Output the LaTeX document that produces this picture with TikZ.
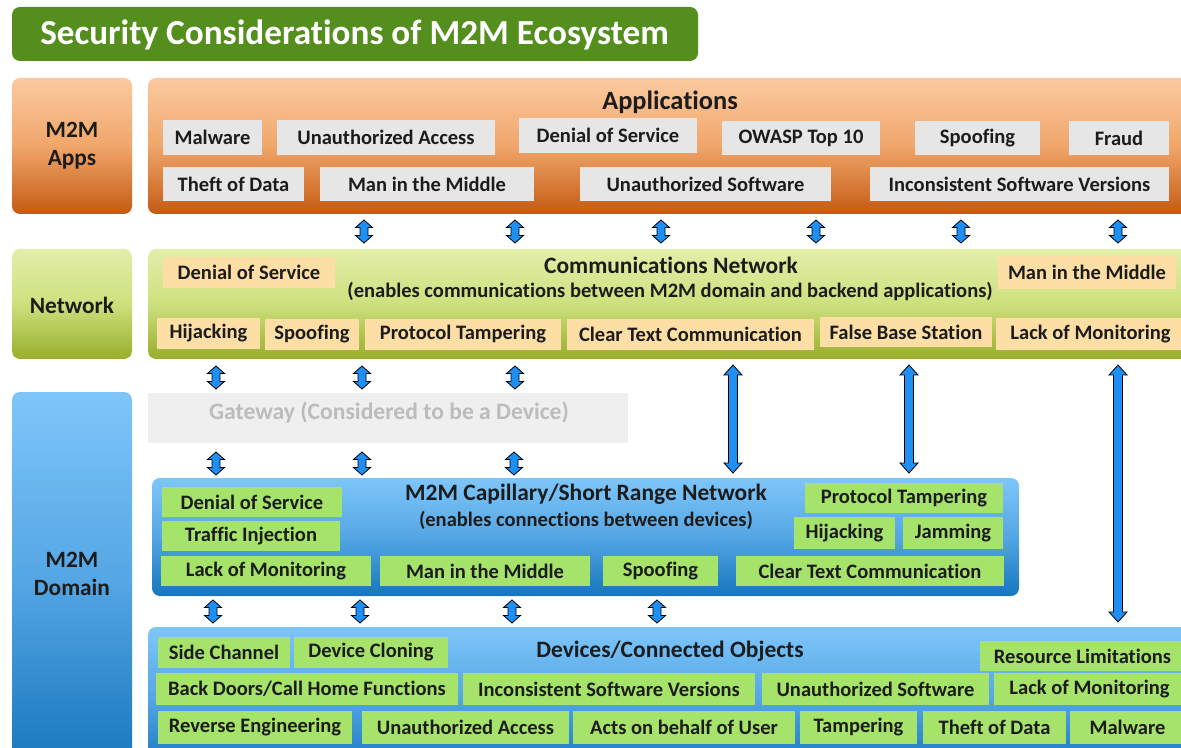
\documentclass[tikz,border=0pt]{standalone}
\usepackage{fontspec}
\setmainfont{Carlito}[Ligatures=NoCommon]
\usetikzlibrary{calc}
\definecolor{titlegreen}{RGB}{84,142,29}
\definecolor{orTop}{RGB}{251,202,160}
\definecolor{orMid}{RGB}{240,166,106}
\definecolor{orBot}{RGB}{196,90,18}
\definecolor{grTop}{RGB}{228,238,170}
\definecolor{grMid}{RGB}{205,224,125}
\definecolor{grBot}{RGB}{152,174,44}
\definecolor{blTop}{RGB}{126,198,250}
\definecolor{blMid}{RGB}{84,166,228}
\definecolor{blBot}{RGB}{22,118,188}
\definecolor{grayBox}{RGB}{230,230,230}
\definecolor{peachBox}{RGB}{253,222,165}
\definecolor{greenBox}{RGB}{166,227,106}
\definecolor{gwFill}{RGB}{239,239,239}
\definecolor{gwText}{RGB}{188,188,188}
\definecolor{txt}{RGB}{28,28,28}
\definecolor{arrBlue}{RGB}{30,144,245}
\newcommand\bx[7]{\node[#7, minimum width={(#4-#2)*0.75pt}, minimum height={(#5-#3)*0.75pt}] (#1) at ({(#2+#4)/2},{(#3+#5)/2}) {#6};}
\newcommand\darr[3]{\filldraw[arrst] (#1,#2) -- ({#1+8.5},{#2+7.5}) -- ({#1+4},{#2+7.5}) -- ({#1+4},{#3-7.5}) -- ({#1+8.5},{#3-7.5}) -- (#1,#3) -- ({#1-8.5},{#3-7.5}) -- ({#1-4},{#3-7.5}) -- ({#1-4},{#2+7.5}) -- ({#1-8.5},{#2+7.5}) -- cycle;}
\newcommand\larr[3]{\filldraw[arrst] (#1,#2) -- ({#1+9},{#2+10}) -- ({#1+4.5},{#2+10}) -- ({#1+4.5},{#3-10}) -- ({#1+9},{#3-10}) -- (#1,#3) -- ({#1-9},{#3-10}) -- ({#1-4.5},{#3-10}) -- ({#1-4.5},{#2+10}) -- ({#1-9},{#2+10}) -- cycle;}
\begin{document}
\begin{tikzpicture}[x=0.75pt,y=-0.75pt,
  every node/.style={text=txt, font=\bfseries\fontsize{15.4}{17}\selectfont},
  item/.style={inner sep=0pt, align=center},
  graybox/.style={item, fill=grayBox},
  peach/.style={item, fill=peachBox},
  grn/.style={item, fill=greenBox},
  orband/.style={rounded corners=6pt, top color=orTop, bottom color=orBot, middle color=orMid},
  grband/.style={rounded corners=6pt, top color=grTop, bottom color=grBot, middle color=grMid},
  blband/.style={rounded corners=6pt, top color=blTop, bottom color=blBot, middle color=blMid},
  head/.style={font=\bfseries\fontsize{17.6}{19}\selectfont},
  sub/.style={font=\bfseries\fontsize{15.4}{17}\selectfont},
  sidelabel/.style={align=center, font=\bfseries\fontsize{17.5}{21}\selectfont},
  arrst/.style={fill=arrBlue, draw=black, line width=0.6pt, line join=miter}]
\clip (0,0) rectangle (1181,748);
\fill[white] (0,0) rectangle (1181,748);
% title
\fill[titlegreen, rounded corners=6pt] (12,7) rectangle (698,61);
\node[text=white, font=\bfseries\fontsize{26.4}{30}\selectfont, anchor=west, inner sep=0pt] (title) at (40,35) {Security Considerations of M2M Ecosystem};
% left labels
\shade[orband] (12,78) rectangle (132,214);
\node[sidelabel] (lapps) at (72,146) {M2M\\Apps};
\shade[grband] (12,249) rectangle (132,359);
\node[sidelabel] (lnet) at (72,305) {Network};
\shade[rounded corners=6pt, top color=blTop, bottom color=blBot, middle color=blMid] (12,392) rectangle (132,770);
\node[sidelabel] (ldom) at (72,574) {M2M\\Domain};
% applications band
\shade[orband] (148,78) rectangle (1200,214);
\node[font=\bfseries\fontsize{19.8}{22}\selectfont] (apps) at (670,102) {Applications};
\bx{a1}{163}{120}{262}{155}{Malware}{graybox}
\bx{a2}{277}{120}{495}{155}{Unauthorized Access}{graybox}
\bx{a3}{519}{118}{697}{153}{Denial of Service}{graybox}
\bx{a4}{722}{121}{880}{155}{OWASP Top 10}{graybox}
\bx{a5}{915}{121}{1040}{155}{Spoofing}{graybox}
\bx{a6}{1069}{121}{1169}{155}{Fraud}{graybox}
\bx{a7}{163}{167}{304}{201}{Theft of Data}{graybox}
\bx{a8}{320}{167}{534}{201}{Man in the Middle}{graybox}
\bx{a9}{580}{167}{831}{201}{Unauthorized Software}{graybox}
\bx{a10}{870}{167}{1169}{201}{Inconsistent Software Versions}{graybox}
% network band
\shade[grband] (148,249) rectangle (1200,359);
\node[head] (net) at (671,265) {Communications Network};
\node[sub] (netsub) at (670,291) {(enables communications between M2M domain and backend applications)};
\bx{n1}{163}{257}{335}{288}{Denial of Service}{peach}
\bx{n2}{998}{256}{1176}{289}{Man in the Middle}{peach}
\bx{n3}{157}{318}{260}{349}{Hijacking}{peach}
\bx{n4}{265}{319}{359}{350}{Spoofing}{peach}
\bx{n5}{365}{319}{561}{350}{Protocol Tampering}{peach}
\bx{n6}{567}{319}{814}{350}{Clear Text Communication}{peach}
\bx{n7}{820}{317}{992}{347}{False Base Station}{peach}
\bx{n8}{996}{318}{1185}{350}{Lack of Monitoring}{peach}
% gateway
\fill[gwFill] (148,393) rectangle (628,443);
\node[text=gwText, font=\bfseries\fontsize{17.7}{19}\selectfont] (gw) at (389,413) {Gateway (Considered to be a Device)};
% capillary band
\shade[blband] (152,478) rectangle (1019,596);
\node[head] (cap) at (586,494) {M2M Capillary/Short Range Network};
\node[sub] (capsub) at (586,520) {(enables connections between devices)};
\bx{c1}{162}{487}{342}{517}{Denial of Service}{grn}
\bx{c2}{162}{521}{340}{551}{Traffic Injection}{grn}
\bx{c3}{161}{556}{371}{586}{Lack of Monitoring}{grn}
\bx{c4}{380}{556}{590}{586}{Man in the Middle}{grn}
\bx{c5}{603}{556}{718}{586}{Spoofing}{grn}
\bx{c6}{736}{556}{1004}{586}{Clear Text Communication}{grn}
\bx{c7}{805}{483}{1003}{513}{Protocol Tampering}{grn}
\bx{c8}{794}{517}{895}{549}{Hijacking}{grn}
\bx{c9}{903}{517}{1003}{549}{Jamming}{grn}
% devices band
\shade[blband] (148,627) rectangle (1200,770);
\node[head] (dev) at (670,651) {Devices/Connected Objects};
\bx{d1}{158}{637}{290}{668}{Side Channel}{grn}
\bx{d2}{294}{637}{448}{668}{Device Cloning}{grn}
\bx{d3}{980}{641}{1185}{671}{Resource Limitations}{grn}
\bx{d4}{156}{673}{458}{705}{Back Doors/Call Home Functions}{grn}
\bx{d5}{463}{673}{755}{705}{Inconsistent Software Versions}{grn}
\bx{d6}{762}{673}{989}{705}{Unauthorized Software}{grn}
\bx{d7}{994}{673}{1185}{705}{Lack of Monitoring}{grn}
\bx{d8}{158}{711}{352}{744}{Reverse Engineering}{grn}
\bx{d9}{362}{711}{569}{744}{Unauthorized Access}{grn}
\bx{d10}{573}{711}{795}{744}{Acts on behalf of User}{grn}
\bx{d11}{800}{711}{917}{744}{Tampering}{grn}
\bx{d12}{923}{711}{1066}{744}{Theft of Data}{grn}
\bx{d13}{1070}{711}{1185}{744}{Malware}{grn}
% arrows apps <-> network
\darr{364}{220}{243}
\darr{515}{220}{243}
\darr{661}{220}{243}
\darr{816}{220}{243}
\darr{961}{220}{243}
\darr{1118}{220}{243}
% network <-> gateway
\darr{216}{366}{389}
\darr{362}{366}{389}
\darr{515}{366}{389}
% long arrows
\larr{733}{365}{473}
\larr{909}{365}{473}
\larr{1118}{365}{622}
% gateway <-> capillary
\darr{216}{452}{475}
\darr{362}{452}{475}
\darr{514}{452}{475}
% capillary <-> devices
\darr{213}{600}{623}
\darr{360}{600}{623}
\darr{512}{600}{623}
\darr{657}{600}{623}
\end{tikzpicture}
\end{document}
